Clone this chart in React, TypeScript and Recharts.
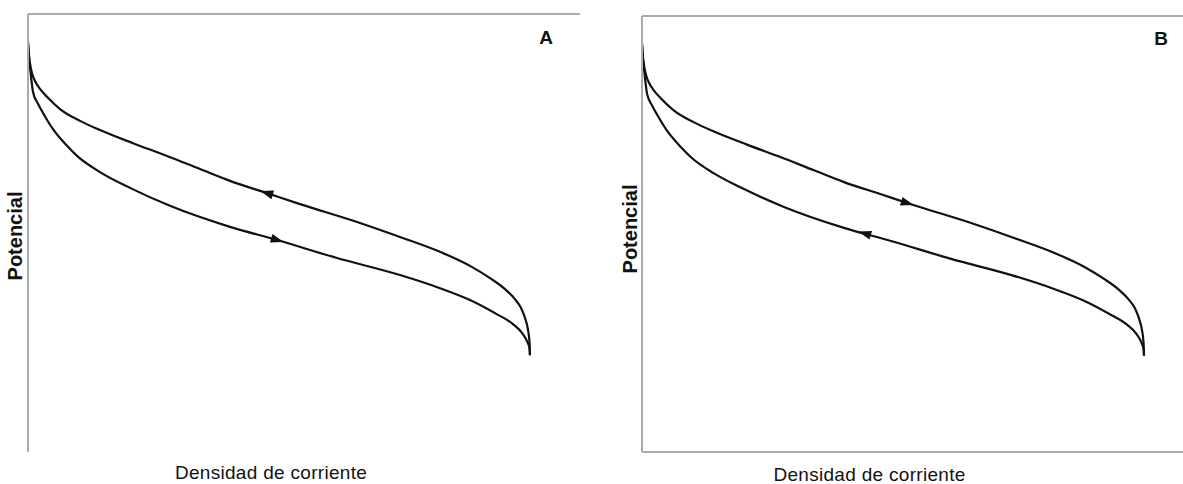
import { LineChart, Line, XAxis, YAxis, Label } from 'recharts'

// Loop, arbitrary units (current density → x, potential → y)
const upperX = [0, 0.18, 0.45, 0.72, 1.27, 2.17, 3.44, 5.8, 9.42, 13.04, 19.02, 25.18, 31.16, 36.59, 43.3, 49.28, 60.14, 67.39, 74.64, 80.07, 83.7, 86.41, 88.22, 89.31, 90.04, 90.58, 90.85, 90.94]
const upperY = [93.6, 90.4, 88.1, 86.5, 84.7, 82.9, 81.1, 78.3, 75.6, 73.5, 70.5, 67.6, 64.6, 61.9, 59.1, 56.6, 52.3, 49.1, 45.7, 42.5, 39.7, 37.2, 34.9, 32.9, 30.6, 27.9, 25.1, 22.1]
const lowerX = [0, 0.18, 0.36, 0.54, 0.91, 1.81, 2.72, 4.53, 7.07, 8.88, 13.04, 18.48, 25.72, 36.59, 45.11, 55.98, 67.39, 74.64, 80.07, 84.6, 87.86, 89.49, 90.4, 90.85, 90.94]
const lowerY = [93.6, 90.2, 87.9, 85.8, 82.2, 79.5, 77.4, 73.7, 69.9, 67.6, 63.9, 60.3, 56.2, 51.4, 48.4, 44.3, 40.4, 37.4, 34.7, 31.7, 29.2, 27.2, 25.3, 23.7, 22.1]

// sweep direction arrows
const arrowAX = [43.3, 45.1]
const arrowAY = [59.1, 48.4]
const arrowADir = ['left', 'right']
const arrowBX = [48.0, 40.4]
const arrowBY = [57.1, 50.1]
const arrowBDir = ['right', 'left']

const yTitle = 'Potencial'
const xTitle = 'Densidad de corriente'

const upper = upperX.map((x, i) => ({ x, y: upperY[i] }))
const lower = lowerX.map((x, i) => ({ x, y: lowerY[i] }))
const arrowsA = arrowAX.map((x, i) => ({ x, y: arrowAY[i], dir: arrowADir[i] }))
const arrowsB = arrowBX.map((x, i) => ({ x, y: arrowBY[i], dir: arrowBDir[i] }))

const FONT = '"Liberation Sans", Arial, sans-serif'
const INK = '#111'
const FRAME = '#ababab'

const arrowDot = (props: any) => {
  const { cx, cy, payload, index } = props
  const rot = payload.dir === 'right' ? 17 : 197
  return (
    <path
      key={`arr-${index}`}
      d="M7,0 L-6,-4.5 L-6,4.5 Z"
      transform={`translate(${cx},${cy}) rotate(${rot})`}
      fill={INK}
    />
  )
}

interface PanelProps {
  left: number
  width: number
  top: number
  right: number
  yAxisWidth: number
  xMax: number
  bottomLine: boolean
  letter: string
  arrows: { x: number; y: number; dir: string }[]
  yLab: { fromAxis: number; dy: number }
  xLab: { dx: number; dy: number }
  letterPos: { fromRight: number; dy: number }
}

function Panel(p: PanelProps) {
  return (
    <div style={{ position: 'absolute', left: p.left, top: 0 }}>
      <LineChart width={p.width} height={484} margin={{ top: p.top - 1, right: p.right, left: 0, bottom: 0 }}>
        <XAxis
          xAxisId="top"
          orientation="top"
          type="number"
          dataKey="x"
          domain={[0, p.xMax]}
          allowDataOverflow
          height={1}
          tick={false}
          tickLine={false}
          axisLine={{ stroke: FRAME, strokeWidth: 2 }}
        >
          <Label
            content={(lp: any) => {
              const vb = lp.viewBox
              return (
                <text
                  x={vb.x + vb.width - p.letterPos.fromRight}
                  y={vb.y + vb.height + p.letterPos.dy}
                  textAnchor="middle"
                  dominantBaseline="central"
                  fontFamily={FONT}
                  fontWeight="bold"
                  fontSize={19}
                  fill={INK}
                >
                  {p.letter}
                </text>
              )
            }}
          />
        </XAxis>
        <XAxis
          xAxisId="bottom"
          orientation="bottom"
          type="number"
          dataKey="x"
          domain={[0, p.xMax]}
          allowDataOverflow
          height={32}
          tick={false}
          tickLine={false}
          axisLine={p.bottomLine ? { stroke: FRAME, strokeWidth: 2 } : false}
        >
          <Label
            content={(lp: any) => {
              const vb = lp.viewBox
              return (
                <text
                  x={vb.x + vb.width / 2 + p.xLab.dx}
                  y={vb.y + p.xLab.dy}
                  textAnchor="middle"
                  dominantBaseline="central"
                  fontFamily={FONT}
                  fontSize={19}
                  letterSpacing={0.3}
                  fill={INK}
                >
                  {xTitle}
                </text>
              )
            }}
          />
        </XAxis>
        <YAxis
          type="number"
          domain={[0, 100]}
          allowDataOverflow
          width={p.yAxisWidth}
          tick={false}
          tickLine={false}
          axisLine={{ stroke: FRAME, strokeWidth: 2 }}
        >
          <Label
            content={(lp: any) => {
              const vb = lp.viewBox
              const cx = vb.x + vb.width - p.yLab.fromAxis
              const cy = vb.y + vb.height / 2 + p.yLab.dy
              return (
                <text
                  x={cx}
                  y={cy}
                  transform={`rotate(-90 ${cx} ${cy})`}
                  textAnchor="middle"
                  dominantBaseline="central"
                  fontFamily={FONT}
                  fontWeight="bold"
                  fontSize={20}
                  fill={INK}
                >
                  {yTitle}
                </text>
              )
            }}
          />
        </YAxis>
        <Line xAxisId="top" data={upper} dataKey="y" type="monotone" stroke={INK} strokeWidth={2.2} dot={false} activeDot={false} isAnimationActive={false} />
        <Line xAxisId="top" data={lower} dataKey="y" type="monotone" stroke={INK} strokeWidth={2.2} dot={false} activeDot={false} isAnimationActive={false} />
        <Line xAxisId="top" data={p.arrows} dataKey="y" stroke="none" dot={arrowDot} activeDot={false} isAnimationActive={false} />
      </LineChart>
    </div>
  )
}

export default function App() {
  return (
    <div style={{ position: 'absolute', left: 0, top: 0, width: 1183, height: 484, background: '#fff', overflow: 'hidden' }}>
      <Panel
        left={0}
        width={590}
        top={14}
        right={10}
        yAxisWidth={28}
        xMax={100}
        bottomLine={false}
        letter="A"
        arrows={arrowsA}
        yLab={{ fromAxis: 13, dy: 3 }}
        xLab={{ dx: -33, dy: 20 }}
        letterPos={{ fromRight: 34, dy: 23 }}
      />
      <Panel
        left={590}
        width={593}
        top={16}
        right={0}
        yAxisWidth={52}
        xMax={98}
        bottomLine={true}
        letter="B"
        arrows={arrowsB}
        yLab={{ fromAxis: 12, dy: -5 }}
        xLab={{ dx: -43, dy: 22 }}
        letterPos={{ fromRight: 22, dy: 22 }}
      />
    </div>
  )
}
